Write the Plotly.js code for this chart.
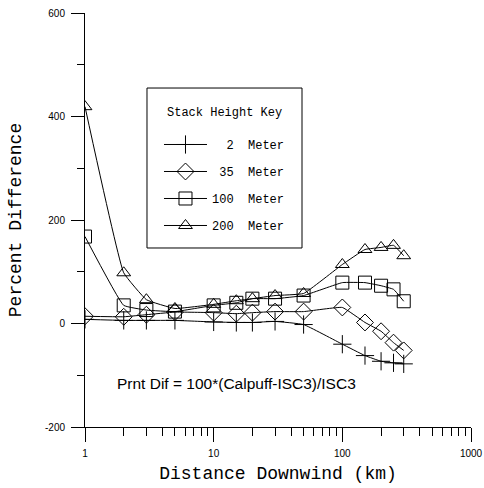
<!DOCTYPE html>
<html><head><meta charset="utf-8">
<script src="https://cdn.plot.ly/plotly-3.0.1.min.js"></script>
<style>html,body{margin:0;padding:0;background:#fff}#chart{width:484px;height:488px}</style>
</head><body><div id="chart"></div>
<script>
var distances = [1, 2, 3, 5, 10, 15, 20, 30, 50, 100, 150, 200, 250, 300];
var seriesNames = ['\u00A0\u00A02\u00A0\u00A0Meter', '\u00A035\u00A0\u00A0Meter', '100\u00A0\u00A0Meter', '200\u00A0\u00A0Meter'];
var h2 = [8, 6, 6, 6, 3, 2, 2, 4, -2, -40, -62, -73, -76, -78];
var h35 = [14, 13, 17, 22, 21, 19, 21, 23, 23, 31, 2, -15, -37, -52];
var h100 = [168, 35, 26, 23, 35, 40, 48, 48, 54, 79, 79, 73, 66, 43];
var h200 = [419, 98, 46, 29, 37, 44, 48, 54, 58, 114, 143, 147, 151, 131];
var yTicks = [-200, 0, 200, 400, 600];
var xTicks = [1, 10, 100, 1000];
var legendTitle = 'Stack Height Key';
var noteText = 'Prnt Dif = 100*(Calpuff-ISC3)/ISC3';

var mono = 'Liberation Mono, Courier New, monospace';
var sans = 'Liberation Sans, Arial, sans-serif';
var values = [h2, h35, h100, h200];
var symbols = ['cross-thin-open', 'diamond-open', 'square-open', 'triangle-up-open'];
var sizes = [13, 13, 13, 12];
var traces = values.map(function (v, i) {
  return {
    x: distances, y: v, name: seriesNames[i], legendgroup: 'g' + i,
    type: 'scatter', mode: 'lines+markers',
    line: {color: '#000', width: 1, shape: 'spline', smoothing: 0.3},
    marker: {symbol: symbols[i], size: sizes[i], color: '#000', line: {color: '#000', width: 1}}
  };
});
var minorX = [];
[1, 10, 100].forEach(function (d) { for (var k = 2; k <= 9; k++) minorX.push(d * k); });

var layout = {
  width: 484, height: 488,
  margin: {l: 85, r: 13, t: 13, b: 61},
  paper_bgcolor: '#fff', plot_bgcolor: '#fff',
  showlegend: true,
  xaxis: {
    type: 'log', range: [0, 3], tickmode: 'array', tickvals: xTicks, ticktext: xTicks.map(String),
    ticks: 'outside', ticklen: 14, tickwidth: 1, tickcolor: '#000', ticklabelstandoff: 3,
    minor: {tickvals: minorX, ticks: 'outside', ticklen: 8, tickwidth: 1, tickcolor: '#000', showgrid: false},
    showline: true, linecolor: '#000', linewidth: 1, showgrid: false, zeroline: false,
    tickfont: {family: sans, size: 10, color: '#000'},
    title: {text: 'Distance Downwind (km)', font: {family: mono, size: 18, color: '#000'}, standoff: 8}
  },
  yaxis: {
    range: [-200, 600], tickmode: 'array', tickvals: yTicks, ticktext: yTicks.map(String),
    ticks: 'outside', ticklen: 13, tickwidth: 1, tickcolor: '#000', ticklabelstandoff: 4,
    minor: {dtick: 100, tick0: 0, ticks: 'outside', ticklen: 7, tickwidth: 1, tickcolor: '#000', showgrid: false},
    showline: true, linecolor: '#000', linewidth: 1, showgrid: false, zeroline: false,
    tickfont: {family: sans, size: 10, color: '#000'},
    title: {text: 'Percent Difference', font: {family: mono, size: 18, color: '#000'}, standoff: 18}
  },
  legend: {
    x: 0.1917, y: 0.7174, xanchor: 'left', yanchor: 'top',
    bgcolor: 'rgba(0,0,0,0)', borderwidth: 0,
    font: {family: mono, size: 12, color: '#000'},
    tracegroupgap: 8, itemwidth: 43
  },
  shapes: [{
    type: 'rect', xref: 'paper', yref: 'paper', x0: 0.1606, x1: 0.5622, y0: 0.4324, y1: 0.8188,
    line: {color: '#000', width: 1}, fillcolor: 'rgba(0,0,0,0)', layer: 'above'
  }],
  annotations: [{
    xref: 'paper', yref: 'paper', x: 0.3614, y: 0.7585, xanchor: 'center', yanchor: 'middle', showarrow: false,
    text: legendTitle, font: {family: mono, size: 12, color: '#000'}
  }, {
    xref: 'paper', yref: 'paper', x: 0.078, y: 0.105, xanchor: 'left', yanchor: 'middle', showarrow: false,
    text: noteText, font: {family: sans, size: 15.5, color: '#000'}
  }]
};
Plotly.newPlot('chart', traces, layout, {displayModeBar: false, staticPlot: true});
</script>
</body></html>
